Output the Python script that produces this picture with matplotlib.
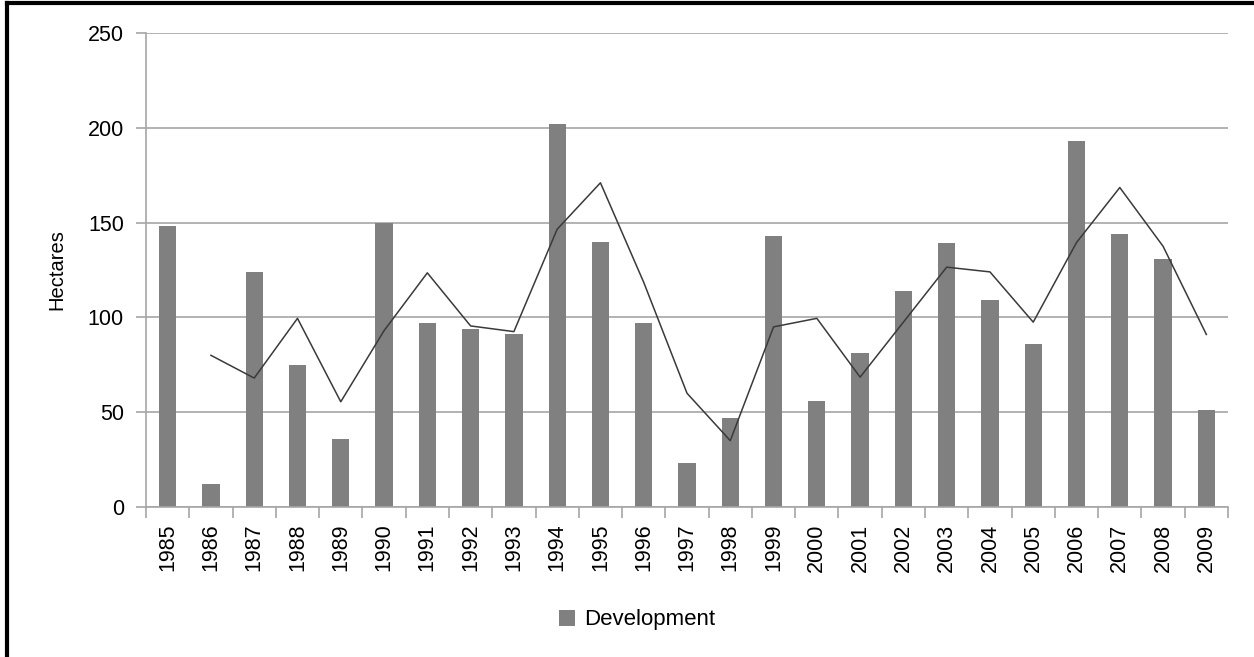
import matplotlib
matplotlib.use("Agg")
import matplotlib.pyplot as plt
from matplotlib.lines import Line2D
import numpy as np

years = [str(y) for y in range(1985, 2010)]
development = [148, 12, 124, 75, 36, 150, 97, 94, 91, 202, 140, 97, 23,
               47, 143, 56, 81, 114, 139, 109, 86, 193, 144, 131, 51]
# trend line (2-period moving average), starts at 1986
trend_years = years[1:]
trend = [80, 68, 99.5, 55.5, 93, 123.5, 95.5, 92.5, 146.5, 171, 118.5, 60,
         35, 95, 99.5, 68.5, 97.5, 126.5, 124, 97.5, 139.5, 168.5, 137.5, 91]

plt.rcParams['font.family'] = ['Liberation Sans', 'DejaVu Sans']

fig = plt.figure(figsize=(12.54, 6.57), dpi=100)
ax = fig.add_axes([146 / 1254, 1 - 507 / 657, (1228 - 146) / 1254, (507 - 33) / 657])

x = np.arange(len(years))
ax.bar(x, development, width=0.4, color='#808080', label='Development', zorder=2)
tx = [years.index(y) for y in trend_years]
ax.plot(tx, trend, color='#3a3a3a', lw=1.1, zorder=3)

ax.set_xlim(-0.5, len(years) - 0.5)
ax.set_ylim(0, 250)
ax.set_yticks([0, 50, 100, 150, 200, 250])
ax.yaxis.grid(True, color='#a6a6a6', lw=1.2, zorder=0)
ax.set_axisbelow(True)

ax.set_xticks(x)
ax.set_xticklabels(years, rotation=90, fontsize=15.5)
ax.tick_params(axis='x', which='major', length=0, pad=12)
ax.set_xticks(np.arange(-0.5, len(years), 1), minor=True)
ax.tick_params(axis='x', which='minor', length=8, color='#a6a6a6', width=1.2)
ax.tick_params(axis='y', length=7, color='#a6a6a6', width=1.2, labelsize=15.5, pad=9)

for s in ['top', 'right']:
    ax.spines[s].set_visible(False)
for s in ['left', 'bottom']:
    ax.spines[s].set_color('#a6a6a6')
    ax.spines[s].set_linewidth(1.2)

ax.set_ylabel('Hectares', fontsize=14.5, labelpad=15)

fig.legend(loc='center', bbox_to_anchor=(637 / 1254, 1 - 620 / 657), frameon=False,
           fontsize=16, handlelength=0.75, handleheight=0.75, handletextpad=0.4)

# outer frame (left and top edges)
fig.add_artist(Line2D([7 / 1254, 7 / 1254], [0, 1 - 3 / 657], transform=fig.transFigure, color='black', lw=3))
fig.add_artist(Line2D([7 / 1254, 1], [1 - 3 / 657, 1 - 3 / 657], transform=fig.transFigure, color='black', lw=3))

fig.savefig('out.png', dpi=100)
